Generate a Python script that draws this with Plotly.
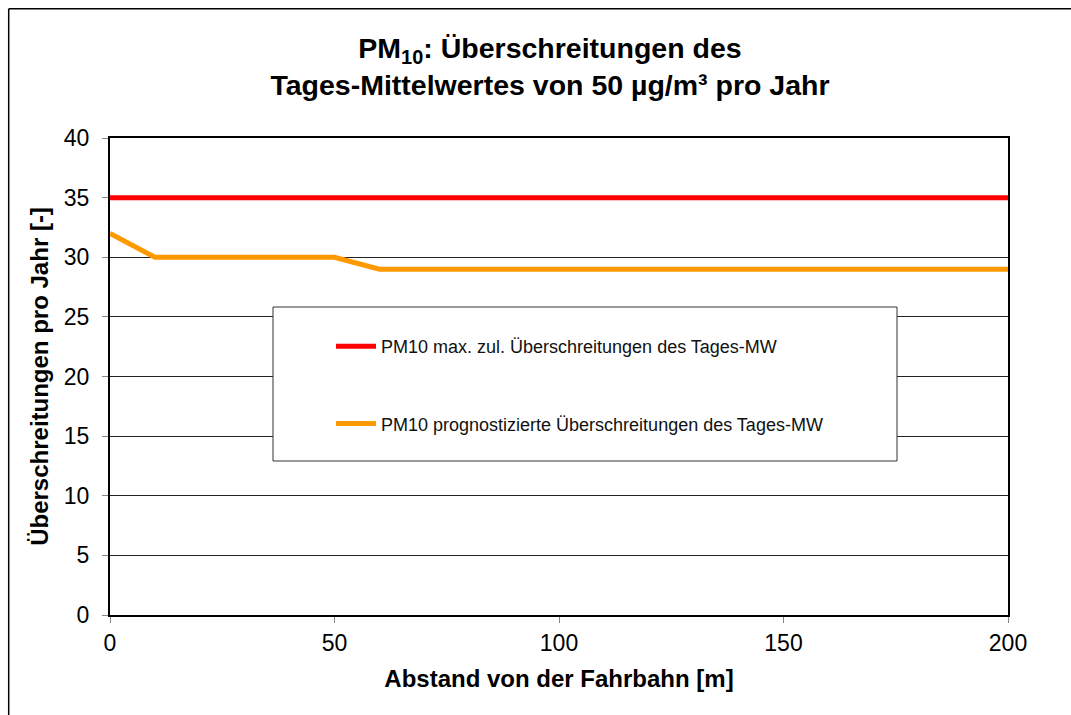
import plotly.graph_objects as go

x_dist = [0, 10, 20, 30, 40, 50, 60, 70, 80, 90, 100, 125, 150, 175, 200]
limit_vals = [35, 35, 35, 35, 35, 35, 35, 35, 35, 35, 35, 35, 35, 35, 35]
forecast_vals = [32, 30, 30, 30, 30, 30, 29, 29, 29, 29, 29, 29, 29, 29, 29]

name_limit = "PM10 max. zul. Überschreitungen des Tages-MW"
name_forecast = "PM10 prognostizierte Überschreitungen des Tages-MW"

FONT = "Liberation Sans, Arial, sans-serif"

fig = go.Figure()
fig.add_trace(go.Scatter(x=x_dist, y=limit_vals, mode="lines", name=name_limit,
                         legendgroup="a", line=dict(color="#FF0000", width=5)))
fig.add_trace(go.Scatter(x=x_dist, y=forecast_vals, mode="lines", name=name_forecast,
                         legendgroup="b", line=dict(color="#FF9900", width=5)))

# body margin is removed by post_script, so figure coords == page coords
W, H = 1071, 715
L, T = 110, 138
R = W - 1008
B = H - 615
pw, ph = W - L - R, H - T - B

def px_x(p):
    return (p - L) / pw

def px_y(p):
    return (H - B - p) / ph

fig.update_layout(
    width=W, height=H,
    margin=dict(l=L, r=R, t=T, b=B),
    paper_bgcolor="white", plot_bgcolor="white",
    font=dict(family=FONT, color="black"),
    title=dict(
        text="PM<sub>10</sub>: Überschreitungen des<br>Tages-Mittelwertes von 50 µg/m³ pro Jahr",
        x=550 / W, xanchor="center", y=1 - 58 / H, yanchor="middle",
        font=dict(family=FONT, size=28.5, color="black", weight="bold"),
    ),
    xaxis=dict(
        range=[0, 200], dtick=50, tick0=0,
        showgrid=False, zeroline=False,
        showline=True, linecolor="black", linewidth=2, mirror=True,
        ticks="outside", ticklen=6, tickcolor="#888888", tickwidth=1,
        tickfont=dict(size=23, family=FONT),
        title=dict(text="<b>Abstand von der Fahrbahn [m]</b>", font=dict(size=24, family=FONT), standoff=16),
    ),
    yaxis=dict(
        range=[0, 40], dtick=5, tick0=0,
        showgrid=True, gridcolor="#222222", gridwidth=1, zeroline=False,
        showline=True, linecolor="black", linewidth=2, mirror=True,
        ticks="outside", ticklen=6, tickcolor="#888888", tickwidth=1,
        ticklabelstandoff=8,
        tickfont=dict(size=23, family=FONT),
        title=dict(text="<b>Überschreitungen pro Jahr [-]</b>", font=dict(size=24, family=FONT), standoff=8),
    ),
    legend=dict(
        x=px_x(331), xanchor="left", y=px_y(328), yanchor="top",
        bgcolor="rgba(0,0,0,0)", borderwidth=0,
        font=dict(size=18, family=FONT, color="#111111"),
        traceorder="grouped", tracegroupgap=51,
        itemwidth=40,
    ),
    showlegend=True,
    shapes=[
        dict(type="rect", xref="paper", yref="paper",
             x0=px_x(273), x1=px_x(897), y0=px_y(461), y1=px_y(307),
             line=dict(color="#333333", width=1), fillcolor="white", layer="above"),
        dict(type="line", xref="paper", yref="paper",
             x0=px_x(8.7), x1=px_x(1100), y0=px_y(8.7), y1=px_y(8.7),
             line=dict(color="black", width=1.5), layer="above"),
        dict(type="line", xref="paper", yref="paper",
             x0=px_x(8.7), x1=px_x(8.7), y0=px_y(8.7), y1=px_y(800),
             line=dict(color="black", width=1.5), layer="above"),
    ],
)

fig.write_html(
    "out.html",
    config={"displayModeBar": False},
    post_script="document.body.style.margin='0';document.body.style.overflow='hidden';",
)
